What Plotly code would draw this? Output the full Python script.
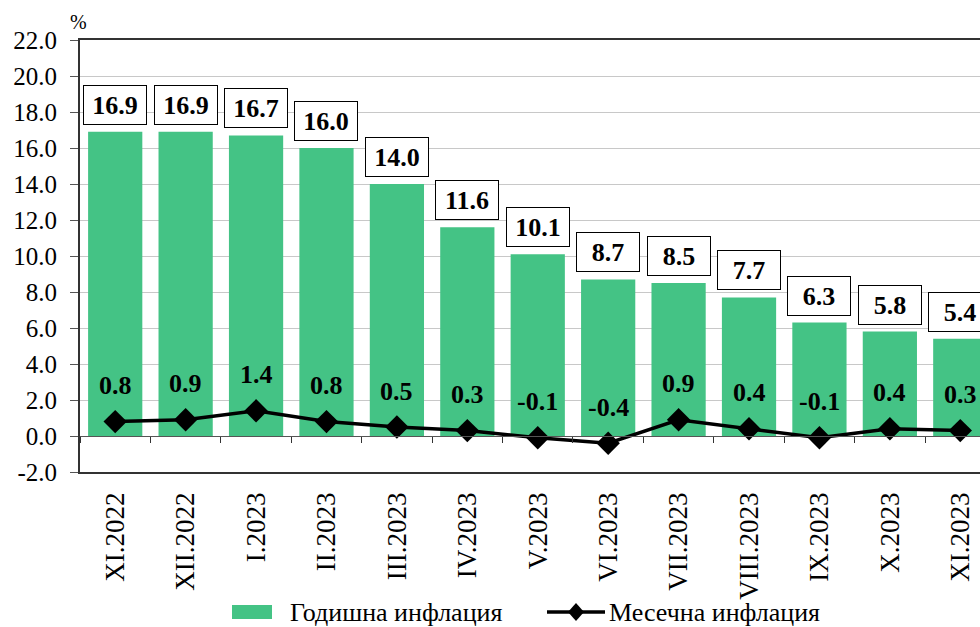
import plotly.graph_objects as go

categories = ["XI.2022", "XII.2022", "I.2023", "II.2023", "III.2023", "IV.2023",
              "V.2023", "VI.2023", "VII.2023", "VIII.2023", "IX.2023", "X.2023", "XI.2023"]
annual = [16.9, 16.9, 16.7, 16.0, 14.0, 11.6, 10.1, 8.7, 8.5, 7.7, 6.3, 5.8, 5.4]
monthly = [0.8, 0.9, 1.4, 0.8, 0.5, 0.3, -0.1, -0.4, 0.9, 0.4, -0.1, 0.4, 0.3]
y_ticks = [-2, 0, 2, 4, 6, 8, 10, 12, 14, 16, 18, 20, 22]
y_ticktext = [f"{v:.1f}" for v in y_ticks]
legend_names = ["Годишна инфлация", "Месечна инфлация"]

FONT = "Liberation Serif, Times New Roman, serif"
GREEN = "#44C385"

# plot area in screen pixels
L, R, T, B = 80, 980, 40, 472
W, H = 980, 627


def px(xs):
    return (xs - L) / (R - L)


def py(ys):
    return (B - ys) / (B - T)


fig = go.Figure()
fig.add_trace(go.Bar(x=categories, y=annual, name=legend_names[0],
                     marker=dict(color=GREEN, line=dict(width=0)), showlegend=False))
fig.add_trace(go.Scatter(x=categories, y=monthly, name=legend_names[1],
                         mode="lines+markers", showlegend=False,
                         line=dict(color="black", width=3.5),
                         marker=dict(symbol="diamond", size=18, color="black")))
fig.add_trace(go.Scatter(x=categories, y=monthly, xaxis="x2", mode="none",
                         showlegend=False, hoverinfo="skip"))

annotations = []
for c, v in zip(categories, annual):
    annotations.append(dict(x=c, y=v, text=f"<b>{v:.1f}</b>", showarrow=False,
                            yanchor="bottom", yshift=7,
                            font=dict(family=FONT, size=26, color="black"),
                            bgcolor="white", bordercolor="black", borderwidth=1,
                            borderpad=3, width=56, height=32))
for c, v in zip(categories, monthly):
    annotations.append(dict(x=c, y=v, text=f"<b>{v:.1f}</b>", showarrow=False,
                            yanchor="middle", yshift=36,
                            font=dict(family=FONT, size=26, color="black")))
annotations.append(dict(x=px(78), y=py(22), xref="paper", yref="paper", xanchor="center",
                        yanchor="middle", text="%", showarrow=False,
                        font=dict(family=FONT, size=20, color="black")))
# custom legend texts
annotations.append(dict(x=px(288), y=py(612), xref="paper", yref="paper", xanchor="left",
                        yanchor="middle", text=legend_names[0], showarrow=False,
                        font=dict(family=FONT, size=26, color="black")))
annotations.append(dict(x=px(607), y=py(612), xref="paper", yref="paper", xanchor="left",
                        yanchor="middle", text=legend_names[1], showarrow=False,
                        font=dict(family=FONT, size=26, color="black")))

shapes = [
    dict(type="rect", xref="paper", yref="paper", x0=px(232), x1=px(272),
         y0=py(619), y1=py(605), fillcolor=GREEN, line=dict(width=0)),
    dict(type="line", xref="paper", yref="paper", x0=px(547), x1=px(605),
         y0=py(612), y1=py(612), line=dict(color="black", width=3.5)),
    dict(type="path", xref="paper", yref="paper",
         path=f"M {px(576)} {py(603)} L {px(584)} {py(612)} L {px(576)} {py(621)} "
              f"L {px(568)} {py(612)} Z",
         fillcolor="black", line=dict(color="black", width=0)),
]

fig.update_layout(
    width=W, height=H,
    margin=dict(l=L, r=W - R, t=T, b=H - B, autoexpand=False),
    paper_bgcolor="white", plot_bgcolor="white",
    font=dict(family=FONT, color="black"),
    bargap=0.23,
    showlegend=False,
    xaxis=dict(range=[-0.5, 12.28], tickangle=-90, showline=True, linecolor="#333333",
               linewidth=1.5, mirror=True, ticks="", showgrid=False, automargin=False,
               ticklabelstandoff=8,
               tickfont=dict(family=FONT, size=27, color="black"), fixedrange=True),
    xaxis2=dict(overlaying="x", matches="x", anchor="free", position=2 / 24,
                showline=True, linecolor="#555555", linewidth=1, automargin=False,
                ticks="outside", ticklen=6, tickcolor="#333333", tickson="boundaries",
                showticklabels=False, showgrid=False),
    yaxis=dict(range=[-2, 22], tickvals=y_ticks, ticktext=y_ticktext, showline=True,
               linecolor="#333333", linewidth=2, ticks="outside", ticklen=8,
               tickcolor="#555555", showgrid=True, gridcolor="#C8C8C8", gridwidth=1,
               zeroline=False, automargin=False, ticklabelstandoff=8,
               tickfont=dict(family=FONT, size=25, color="black")),
    annotations=annotations,
    shapes=shapes,
)

fig.write_html("out.html",
               config={"displayModeBar": False},
               post_script="document.body.style.margin='0';"
                           "document.body.style.overflow='hidden';")
